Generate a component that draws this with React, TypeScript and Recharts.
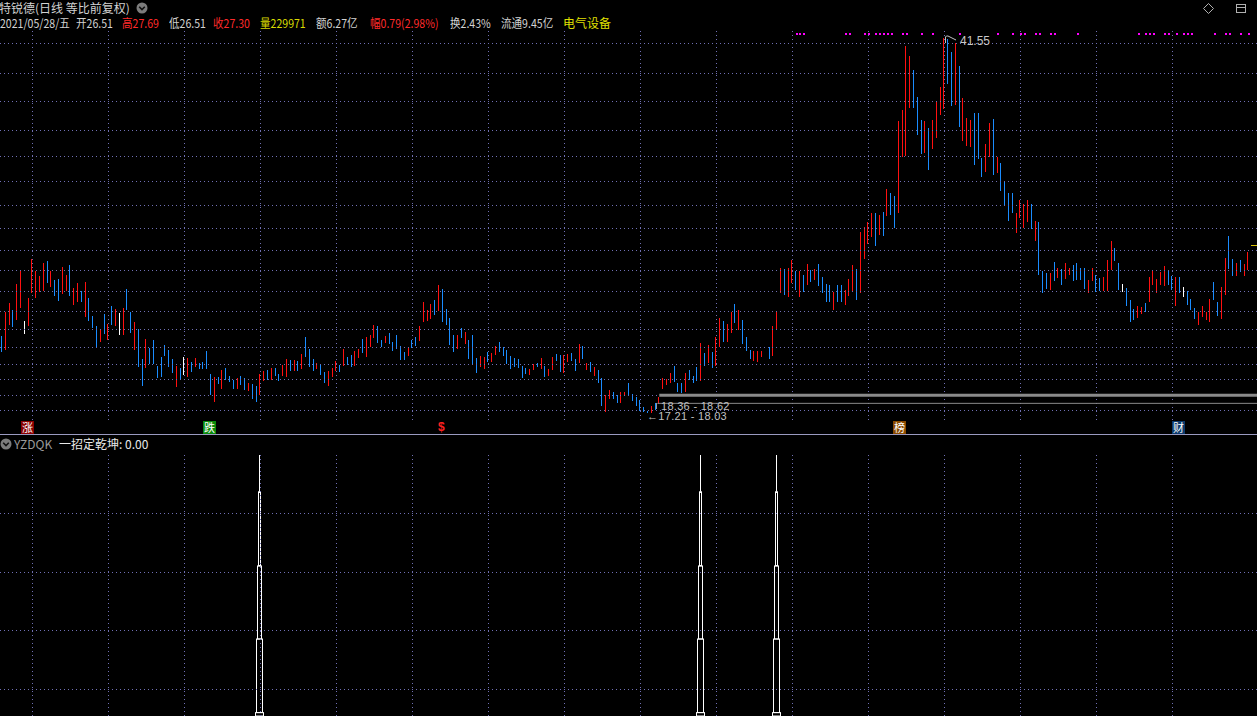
import React from "react";
import { ComposedChart, BarChart, Bar, Scatter, XAxis, YAxis, ReferenceLine } from "recharts";

// daily bars, oldest first (prices)
const HIGHS = [
  22.21, 23.79, 24.33, 23.90, 25.57, 26.50, 23.19, 24.66, 27.21, 26.43,
  26.09, 26.95, 27.08, 26.43, 25.85, 25.91, 26.69, 26.17, 26.82, 25.31,
  25.65, 25.13, 25.72, 24.70, 23.51, 22.86, 22.60, 23.64, 22.99, 24.16,
  23.97, 23.73, 24.05, 25.26, 23.79, 23.14, 22.67, 20.72, 22.02, 21.46,
  21.95, 20.27, 20.87, 21.63, 21.31, 20.72, 20.27, 20.12, 20.87, 20.79,
  20.55, 20.81, 20.48, 20.55, 21.24, 19.75, 19.57, 19.57, 20.01, 20.11,
  19.62, 19.36, 19.47, 19.62, 19.47, 19.14, 19.10, 18.97, 19.75, 19.94,
  20.01, 20.11, 20.11, 19.75, 20.33, 20.70, 20.66, 20.66, 20.59, 21.05,
  22.17, 21.37, 20.70, 20.48, 20.37, 19.90, 19.96, 20.11, 20.59, 20.33,
  21.37, 20.83, 20.98, 21.24, 21.37, 21.99, 22.13, 22.28, 22.93, 22.86,
  21.95, 22.21, 22.39, 21.85, 22.28, 21.56, 21.20, 21.52, 21.95, 22.17,
  22.86, 24.42, 23.90, 24.29, 24.55, 25.52, 25.26, 23.96, 23.40, 22.28,
  22.28, 22.75, 22.49, 21.95, 22.28, 20.81, 20.92, 20.87, 21.20, 21.09,
  21.56, 21.82, 21.52, 21.30, 20.92, 20.76, 20.72, 20.29, 20.11, 20.05,
  20.37, 20.44, 20.76, 20.27, 20.05, 20.83, 21.05, 20.98, 20.98, 21.05,
  21.09, 20.72, 21.69, 21.56, 20.44, 20.55, 20.18, 20.01, 19.47, 18.38,
  18.71, 18.56, 18.35, 18.60, 18.56, 19.19, 18.43, 18.28, 18.06, 17.63,
  17.37, 17.69, 17.89, 18.28, 19.51, 19.40, 19.79, 20.27, 19.14, 19.19,
  19.79, 20.01, 19.62, 20.18, 21.74, 21.09, 21.63, 21.20, 22.13, 23.36,
  23.19, 22.99, 23.77, 24.29, 23.90, 23.25, 22.13, 21.30, 21.24, 21.24,
  21.24, null, 21.48, 22.86, 23.79, 26.60, 26.58, 26.65, 27.14, 26.45,
  26.45, 26.17, 26.86, 26.50, 26.54, 26.86, 26.02, 25.59, 25.52, 25.09,
  25.52, 25.52, 25.20, 25.89, 26.82, 26.54, 28.94, 29.31, 29.63, 30.22,
  30.22, 30.07, 30.28, 31.73, 31.47, 31.30, 36.19, 36.88, 41.03, 40.38,
  39.47, 37.70, 36.23, 36.19, 35.69, 36.20, 37.46, 38.35, 41.55, 41.49,
  40.62, 41.25, 39.73, 37.63, 36.34, 36.23, 36.71, 36.71, 33.74, 34.67,
  36.06, 36.27, 33.81, 33.42, 32.23, 31.47, 31.47, 30.17, 31.04, 30.78,
  31.04, 30.78, 29.70, 29.59, 26.43, 26.28, 26.28, 26.99, 26.60, 26.54,
  26.93, 26.60, 26.82, 26.97, 26.60, 26.60, 25.85, 26.60, 26.17, 25.96,
  26.06, 27.14, 28.38, 27.90, 26.93, 25.59, 25.31, 24.55, 23.94, 24.16,
  24.12, 24.33, 26.02, 26.45, 25.89, 26.39, 26.75, 26.50, 26.11, 26.06,
  26.02, 25.37, 25.13, 24.59, 24.01, 23.79, 24.16, 23.79, 24.59, 25.74,
  24.44, 25.41, 27.30, 28.72, 27.19, 26.97, 27.14, 26.86, 27.69,
];

const LOWS = [
  21.20, 21.31, 22.93, 22.82, 23.25, 24.01, 22.34, 22.86, 24.98, 24.70,
  25.03, 25.13, 25.67, 25.42, 24.83, 24.51, 24.92, 25.15, 24.83, 24.18,
  24.44, 24.44, 23.47, 23.23, 22.75, 21.46, 21.85, 22.32, 21.93, 22.93,
  22.88, 22.28, 22.32, 23.90, 22.45, 21.31, 20.22, 18.99, 20.16, 20.40,
  20.42, 19.51, 19.57, 20.94, 20.22, 19.83, 18.93, 19.32, 19.68, 19.57,
  19.90, 20.22, 20.07, 20.07, 20.07, 18.38, 17.95, 19.14, 18.80, 19.36,
  19.25, 18.77, 18.77, 19.03, 18.71, 18.64, 18.12, 17.95, 18.38, 19.31,
  19.36, 19.36, 19.57, 19.31, 19.62, 19.51, 19.96, 19.96, 19.96, 20.05,
  20.87, 20.22, 19.90, 20.07, 19.68, 19.19, 18.99, 19.51, 19.94, 19.90,
  20.29, 20.29, 20.22, 20.29, 20.81, 21.05, 20.83, 21.52, 22.06, 21.74,
  21.52, 21.74, 21.67, 21.26, 21.35, 20.66, 20.70, 20.92, 21.41, 21.59,
  21.89, 23.14, 23.21, 23.32, 23.58, 23.86, 23.14, 22.93, 21.63, 21.20,
  21.37, 22.11, 21.74, 20.72, 20.33, 19.83, 20.18, 20.07, 20.55, 20.48,
  20.98, 21.20, 20.94, 20.37, 20.05, 20.16, 20.16, 19.53, 19.75, 19.68,
  20.01, 20.18, 20.07, 19.57, 19.62, 20.01, 20.59, 19.86, 19.83, 20.55,
  20.55, 19.96, 20.44, 20.72, 20.01, 19.90, 19.57, 19.18, 17.67, 17.30,
  18.12, 18.12, 17.86, 17.89, 18.28, 18.34, 17.95, 17.69, 17.37, 17.30,
  17.21, 17.25, 17.45, 17.84, 18.82, 19.03, 19.14, 19.25, 18.56, 18.56,
  18.54, 19.36, 19.14, 19.29, 19.29, 20.27, 20.44, 20.18, 20.22, 21.48,
  21.85, 21.85, 22.43, 23.04, 22.60, 21.69, 21.20, 20.72, 20.59, 20.55,
  20.87, null, 20.72, 20.91, 22.60, 24.98, 24.90, 24.77, 25.63, 25.24,
  24.77, 25.09, 25.52, 25.74, 25.80, 25.41, 24.98, 24.44, 24.44, 23.90,
  24.44, 24.44, 24.22, 24.77, 25.09, 24.51, 24.98, 27.25, 28.23, 28.66,
  28.05, 28.77, 28.70, 29.96, 30.07, 29.24, 30.22, 33.81, 33.89, 36.99,
  37.03, 35.26, 34.02, 34.11, 32.94, 34.30, 35.08, 36.55, 36.92, 38.57,
  37.14, 37.20, 35.75, 34.82, 34.50, 34.46, 33.31, 33.74, 32.49, 32.88,
  33.85, 32.66, 32.77, 31.62, 30.67, 29.63, 30.17, 28.88, 29.85, 29.20,
  29.63, 29.14, 28.40, 26.17, 24.98, 25.24, 25.15, 25.74, 25.95, 25.52,
  25.89, 26.17, 25.80, 25.89, 25.80, 25.24, 25.03, 25.74, 25.09, 25.09,
  25.15, 25.15, 26.50, 27.04, 25.20, 25.09, 24.12, 23.14, 23.25, 23.36,
  23.68, 23.73, 24.38, 25.52, 24.98, 25.52, 25.46, 25.52, 25.20, 24.16,
  24.98, 24.72, 24.22, 23.90, 23.29, 22.93, 23.42, 23.25, 23.08, 24.55,
  23.51, 23.36, 24.87, 26.60, 26.06, 26.11, 26.39, 26.11, 26.51,
];

// r = up, b = down, w = flat, n = no bar
const DIRS = (
  "brrbrrwrrr" + "rrbrbbrrbr" + "rbrbbbrbrb" + "rwrbbrbbrb" + "bbbbbbrbwr" +
  "brbbbbrbrb" + "bbrbbrbbrr" + "brbbrrbrbr" + "bbbrbbrrrb" + "rbbrrbrrrb" +
  "brbbbbbrbb" + "rrrrbrbbbb" + "rbrbbbrrbr" + "rbbbbbbbbr" + "rbrbrrbbrr" +
  "bbrbrbrbbr" + "rbbrrbbbbb" + "brbrrrrbbb" + "rbbbrbrbrr" + "brrbrbbbrr" +
  "rnbrrrbrrb" + "rbrbrbbbbr" + "bbrrrbrrrr" + "brbrbbrrrr" + "bbbrbrrrrb" +
  "brbrrrbbbr" + "rbrbbbbrrr" + "rbrbbbrbrb" + "rrbbbbrrbb" + "rrrbbwbbbr" +
  "rbrrrrrbbr" + "bwbbbrrrrb" + "brrbbrbrr"
).split("");

const PRICE_GRID = [41.21, 39.26, 37.4, 35.58, 33.87, 32.27, 30.71, 29.22, 27.79, 26.49, 25.11, 23.81, 22.65, 21.48, 20.38, 19.36, 18.34, 17.36];
const BAR_GRID = [8, 28, 48, 68, 88, 108, 128, 148, 168, 188, 208, 228, 248, 268, 288, 308];
const MARK_BARS = [209, 210, 211, 222, 223, 227, 228, 230, 231, 232, 233, 234, 237, 238, 242, 245, 252, 262, 266, 268, 269, 272, 273, 276, 277, 283, 299, 301, 302, 303, 306, 307, 309, 311, 312, 313, 319, 322, 323, 326, 328];
const MARK_LEVEL = 41.81;

// YZDQK indicator
const SPIKE_BARS = [68, 184, 204];
const SPIKE_LEVELS = [100, 85.9, 57.5, 29.5, 1.3];
const IND_GRID = [10, 32.6, 54.8, 77.4];

// chip range lines
const BAND_HI = 18.36;
const BAND_LO = 17.84;
const BAND_START = 173;

const UP = "#ff1010";
const DOWN = "#1a8cff";
const GRID = "#7070b4";
const COLOR_OF: Record<string, string> = { r: UP, b: DOWN, w: "#ffffff" };

const rows = HIGHS.map((h, i) => ({
  i,
  hl: h == null ? null : [LOWS[i] as number, h],
  dir: DIRS[i],
}));
const marks = MARK_BARS.map((i) => ({ i, m: MARK_LEVEL }));
const indRows = HIGHS.map((_, i) => ({ i, v: SPIKE_BARS.includes(i) ? SPIKE_LEVELS[0] : 0 }));

const X_DOMAIN: [number, number] = [-0.5, 330.3];

const HLBar = (props: any) => {
  const { x, y, width, height, payload } = props;
  if (!payload || payload.hl == null) return null;
  const px = Math.floor(x + width / 2);
  const top = Math.round(Math.min(y, y + height));
  const h = Math.max(1, Math.round(Math.abs(height)));
  return <rect x={px} y={top} width={1} height={h} fill={COLOR_OF[payload.dir]} shapeRendering="crispEdges" />;
};

const MarkDot = (props: any) => {
  const { cx, cy } = props;
  return <rect x={Math.floor(cx)} y={Math.round(cy) - 1} width={2} height={2} fill="#ff00ff" />;
};

const SpikeShape = (props: any) => {
  const { x, y, width, height, payload } = props;
  if (!payload || !payload.v || !height) return null;
  const cx = Math.floor(x + width / 2) + 0.5;
  const base = y + height;
  const k = height / payload.v;
  const py = (v: number) => base - v * k;
  const parts = [
    <line key="top" x1={cx} x2={cx} y1={py(SPIKE_LEVELS[0])} y2={py(SPIKE_LEVELS[1])} stroke="#fff" />,
  ];
  for (let j = 1; j < SPIKE_LEVELS.length; j++) {
    const t = py(SPIKE_LEVELS[j]);
    const b = j + 1 < SPIKE_LEVELS.length ? py(SPIKE_LEVELS[j + 1]) : base;
    parts.push(
      <rect key={j} x={cx - j} y={t} width={2 * j} height={b - t} fill="none" stroke="#fff" />
    );
  }
  return <g>{parts}</g>;
};

const abs = (left: number, top: number, extra: React.CSSProperties = {}): React.CSSProperties => ({
  position: "absolute",
  left,
  top,
  whiteSpace: "nowrap",
  lineHeight: "13px",
  ...extra,
});

const Badge = ({ left, bg, ch }: { left: number; bg: string; ch: string }) => (
  <div style={abs(left, 421, { width: 13, height: 13, background: bg, color: "#fff", fontSize: 11, lineHeight: "13px", textAlign: "center" })}>{ch}</div>
);

const Chevron = ({ left, top }: { left: number; top: number }) => (
  <svg style={{ position: "absolute", left, top }} width={12} height={12}>
    <circle cx={6} cy={6} r={5.5} fill="#7c7c7c" />
    <path d="M3.2 4.8 L6 7.6 L8.8 4.8" stroke="#111" strokeWidth={1.6} fill="none" />
  </svg>
);

const gridLines = (ys: number[]) => [
  ...BAR_GRID.map((v) => (
    <ReferenceLine key={`x${v}`} x={v} stroke={GRID} strokeDasharray="1 3" shapeRendering="crispEdges" />
  )),
  ...ys.map((v) => (
    <ReferenceLine key={`y${v}`} y={v} stroke={GRID} strokeDasharray="1 3" shapeRendering="crispEdges" />
  )),
];

export default function App() {
  const txt = "#d2d2d2";
  // header row 2: narrow glyphs like the terminal's bitmap font
  const l2: React.CSSProperties = { fontSize: 12, transform: "scaleX(0.88)", transformOrigin: "left center" };
  const num = '"Liberation Sans", Arial, sans-serif';
  const chip: React.CSSProperties = { fontFamily: num, fontSize: 11, letterSpacing: 0.3, color: "#c0c0c0", lineHeight: "8px" };
  return (
    <div
      style={{
        position: "fixed",
        left: 0,
        top: 0,
        width: 1257,
        height: 716,
        background: "#000",
        overflow: "hidden",
        fontFamily: '"Noto Sans CJK SC", "Noto Sans", sans-serif',
        fontSize: 12,
        color: txt,
      }}
    >
      {/* header */}
      <div style={abs(-1, 1)}>特锐德(日线 等比前复权)</div>
      <Chevron left={136} top={2} />
      <div style={abs(0, 16, l2)}>2021/05/28/五</div>
      <div style={abs(76, 16, l2)}>开26.51</div>
      <div style={abs(122, 16, { ...l2, color: "#ff2a2a" })}>高27.69</div>
      <div style={abs(169, 16, l2)}>低26.51</div>
      <div style={abs(213, 16, { ...l2, color: "#ff2a2a" })}>收27.30</div>
      <div style={abs(260, 16, { ...l2, color: "#d8d800" })}>量229971</div>
      <div style={abs(316, 16, l2)}>额6.27亿</div>
      <div style={abs(370, 16, { ...l2, color: "#ff2a2a" })}>幅0.79(2.98%)</div>
      <div style={abs(450, 16, l2)}>换2.43%</div>
      <div style={abs(501, 16, l2)}>流通9.45亿</div>
      <div style={abs(563, 16, { color: "#e0e000" })}>电气设备</div>
      <svg style={{ position: "absolute", left: 1200, top: 2 }} width={57} height={14}>
        <path d="M8.5 1.5 L13.5 6.5 L8.5 11.5 L3.5 6.5 Z" stroke="#b0b0b0" fill="none" />
        <rect x={36.5} y={2.5} width={9} height={8} stroke="#b0b0b0" fill="none" />
        <line x1={36.5} x2={45.5} y1={5.5} y2={5.5} stroke="#b0b0b0" />
      </svg>

      {/* price panel */}
      <div style={{ position: "absolute", left: 0, top: 30 }}>
        <ComposedChart width={1257} height={390} data={rows} margin={{ top: 0, right: 0, bottom: 0, left: 0 }}>
          <XAxis type="number" dataKey="i" domain={X_DOMAIN} allowDataOverflow hide />
          <YAxis type="number" domain={[16.76, 42.07]} allowDataOverflow hide />
          {gridLines(PRICE_GRID)}
          <ReferenceLine segment={[{ x: BAND_START, y: BAND_HI }, { x: X_DOMAIN[1], y: BAND_HI }]} stroke="#8a8a8a" strokeWidth={3} ifOverflow="visible" />
          <ReferenceLine segment={[{ x: BAND_START - 0.5, y: BAND_LO }, { x: X_DOMAIN[1], y: BAND_LO }]} stroke="#8a8a8a" strokeWidth={1} ifOverflow="visible" />
          <Bar dataKey="hl" barSize={1} shape={HLBar} isAnimationActive={false} />
          <Scatter data={marks} dataKey="m" shape={MarkDot} isAnimationActive={false} />
        </ComposedChart>
      </div>

      {/* annotations on price panel */}
      <svg style={{ position: "absolute", left: 940, top: 30 }} width={20} height={16}>
        <path d="M5.5 13 V7 Q6 5.5 8 6 L16 10" stroke="#c0c0c0" fill="none" />
      </svg>
      <div style={abs(960, 35, { fontFamily: num, color: "#c8c8c8" })}>41.55</div>
      <svg style={{ position: "absolute", left: 655, top: 402 }} width={4} height={8}>
        <line x1={1.5} x2={1.5} y1={1} y2={7} stroke="#9a9a9a" />
      </svg>
      <div style={abs(661, 402, chip)}>18.36 - 18.62</div>
      <div style={abs(647, 412, chip)}>←17.21 - 18.03</div>
      <div style={{ position: "absolute", left: 1251, top: 245, width: 6, height: 1, background: "#d8c000" }} />

      <Badge left={21} bg="#8a0000" ch="涨" />
      <Badge left={203} bg="#0a8a0a" ch="跌" />
      <div style={abs(438, 421, { color: "#ff2020", fontSize: 12, fontWeight: 700, fontFamily: num })}>$</div>
      <Badge left={893} bg="#8a4a00" ch="榜" />
      <Badge left={1172} bg="#0c3a6c" ch="财" />

      <div style={{ position: "absolute", left: 0, top: 434, width: 1257, height: 1, background: "#9a9ac0" }} />

      {/* indicator panel */}
      <Chevron left={0} top={438} />
      <div style={abs(14, 437, { color: "#9a9a9a" })}>YZDQK</div>
      <div style={abs(59, 437, { color: "#e8e8e8" })}>一招定乾坤: 0.00</div>
      <div style={{ position: "absolute", left: 0, top: 437 }}>
        <BarChart width={1257} height={279} data={indRows} margin={{ top: 18, right: 0, bottom: 0, left: 0 }}>
          <XAxis type="number" dataKey="i" domain={X_DOMAIN} allowDataOverflow hide />
          <YAxis type="number" domain={[0, 100]} allowDataOverflow hide />
          {gridLines(IND_GRID)}
          <Bar dataKey="v" barSize={1} shape={SpikeShape} isAnimationActive={false} />
        </BarChart>
      </div>
    </div>
  );
}
